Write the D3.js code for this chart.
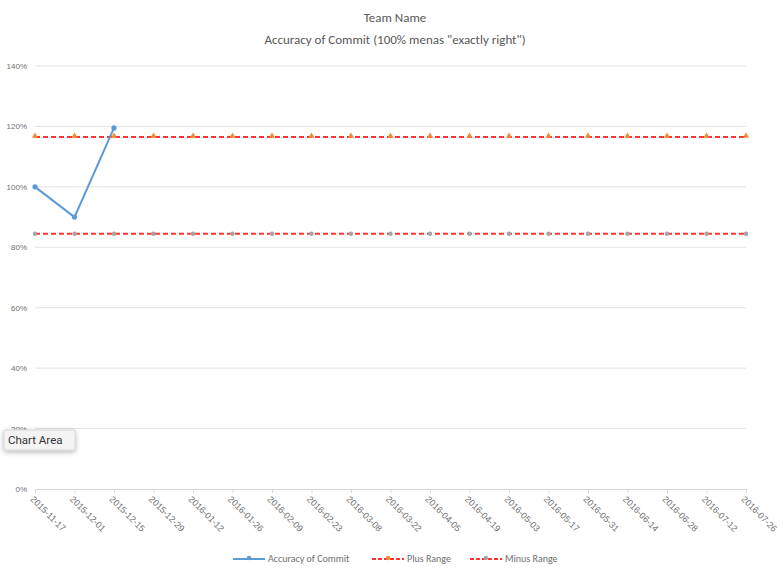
<!DOCTYPE html>
<html>
<head>
<meta charset="utf-8">
<script src="https://cdn.jsdelivr.net/npm/d3@7"></script>
<style>
  body { margin: 0; background: #fff; }
  svg { font-family: Calibri, "Open Sans", "Liberation Sans", sans-serif; }
</style>
</head>
<body>
<svg id="chart" width="783" height="568"></svg>
<script>
// sprint dates (category axis)
var dates = ["2015-11-17","2015-12-01","2015-12-15","2015-12-29","2016-01-12","2016-01-26",
  "2016-02-09","2016-02-23","2016-03-08","2016-03-22","2016-04-05","2016-04-19","2016-05-03",
  "2016-05-17","2016-05-31","2016-06-14","2016-06-28","2016-07-12","2016-07-26"];

// accuracy of commit, only three sprints filled in
var accuracy = [1.00, 0.90, 1.195];
var plusRange = [1.165,1.165,1.165,1.165,1.165,1.165,1.165,1.165,1.165,1.165,1.165,1.165,1.165,1.165,1.165,1.165,1.165,1.165,1.165];
var minusRange = [0.845,0.845,0.845,0.845,0.845,0.845,0.845,0.845,0.845,0.845,0.845,0.845,0.845,0.845,0.845,0.845,0.845,0.845,0.845];

var yTicks = [0, 0.2, 0.4, 0.6, 0.8, 1.0, 1.2, 1.4];

var svg = d3.select("#chart");
var pLeft = 35, pRight = 746, pTop = 66, pBottom = 489;

var x = d3.scalePoint().domain(dates).range([pLeft, pRight]);
var y = d3.scaleLinear().domain([0, 1.4]).range([pBottom, pTop]);

// titles
svg.append("text").attr("x", 395).attr("y", 22).attr("text-anchor", "middle")
  .attr("font-size", 13).attr("fill", "#595959").text("Team Name");
svg.append("text").attr("x", 395).attr("y", 44).attr("text-anchor", "middle")
  .attr("font-size", 13).attr("fill", "#595959").text("Accuracy of Commit (100% menas \"exactly right\")");

// gridlines
svg.append("g").selectAll("line").data(yTicks.slice(1)).enter().append("line")
  .attr("x1", pLeft).attr("x2", pRight)
  .attr("y1", function(d){ return y(d); }).attr("y2", function(d){ return y(d); })
  .attr("stroke", "#e3e3e3").attr("stroke-width", 1);

// y axis labels
var yAxis = d3.axisLeft(y).tickValues(yTicks).tickSize(0).tickPadding(8)
  .tickFormat(function(d){ return Math.round(d * 100) + "%"; });
var gy = svg.append("g").attr("transform", "translate(" + pLeft + ",0)").call(yAxis);
gy.select(".domain").remove();
gy.selectAll("text").attr("font-size", 8).attr("fill", "#6f6f6f");

// x axis
var xAxis = d3.axisBottom(x).tickSizeOuter(0).tickSizeInner(4).tickPadding(4);
var gx = svg.append("g").attr("transform", "translate(0," + pBottom + ")").call(xAxis);
gx.select(".domain").attr("stroke", "#d9d9d9");
gx.selectAll(".tick line").attr("stroke", "#d9d9d9");
gx.selectAll("text").attr("font-size", 9).attr("fill", "#6f6f6f")
  .attr("text-anchor", "start").attr("dy", 0)
  .attr("transform", "translate(0,5) rotate(45)");

// series
var line = d3.line().x(function(d, i){ return x(dates[i]); }).y(function(d){ return y(d); });

svg.append("path").datum(plusRange).attr("d", line).attr("fill", "none")
  .attr("stroke", "#ff3333").attr("stroke-width", 2).attr("stroke-dasharray", "5,3");
svg.append("g").selectAll("path").data(plusRange).enter().append("path")
  .attr("d", d3.symbol().type(d3.symbolTriangle).size(16))
  .attr("transform", function(d, i){ return "translate(" + x(dates[i]) + "," + (y(d) - 1) + ")"; })
  .attr("fill", "#f28a2e");

svg.append("path").datum(minusRange).attr("d", line).attr("fill", "none")
  .attr("stroke", "#ff3333").attr("stroke-width", 2).attr("stroke-dasharray", "5,3");
svg.append("g").selectAll("circle").data(minusRange).enter().append("circle")
  .attr("cx", function(d, i){ return x(dates[i]); }).attr("cy", function(d){ return y(d); })
  .attr("r", 2.2).attr("fill", "#a5a5a5");

svg.append("path").datum(accuracy).attr("d", line).attr("fill", "none")
  .attr("stroke", "#5b9bd5").attr("stroke-width", 2);
svg.append("g").selectAll("circle").data(accuracy).enter().append("circle")
  .attr("cx", function(d, i){ return x(dates[i]); }).attr("cy", function(d){ return y(d); })
  .attr("r", 2.6).attr("fill", "#5b9bd5");

// legend
var legend = [
  {name: "Accuracy of Commit", x: 233, color: "#5b9bd5", dash: null, marker: "#5b9bd5"},
  {name: "Plus Range", x: 372, color: "#ff3333", dash: "4,2", marker: "#f28a2e"},
  {name: "Minus Range", x: 470, color: "#ff3333", dash: "4,2", marker: "#a5a5a5"}
];
var lg = svg.append("g").selectAll("g").data(legend).enter().append("g")
  .attr("transform", function(d){ return "translate(" + d.x + ",559)"; });
lg.append("line").attr("x1", 0).attr("x2", 32).attr("y1", 0).attr("y2", 0)
  .attr("stroke", function(d){ return d.color; }).attr("stroke-width", 2)
  .attr("stroke-dasharray", function(d){ return d.dash; });
lg.append("circle").attr("cx", 16).attr("cy", -1).attr("r", 2.2)
  .attr("fill", function(d){ return d.marker; });
lg.append("text").attr("x", 35).attr("y", 3).attr("font-size", 10).attr("fill", "#6f6f6f")
  .text(function(d){ return d.name; });

// "Chart Area" hover tooltip
var defs = svg.append("defs");
var f = defs.append("filter").attr("id", "sh").attr("x", "-30%").attr("y", "-50%")
  .attr("width", "160%").attr("height", "220%");
f.append("feDropShadow").attr("dx", 0).attr("dy", 1.5).attr("stdDeviation", 2.5)
  .attr("flood-color", "#000").attr("flood-opacity", 0.3);
svg.append("rect").attr("x", 4).attr("y", 430).attr("width", 71).attr("height", 20).attr("rx", 2)
  .attr("fill", "#f4f4f4").attr("stroke", "#d6d6d6").attr("filter", "url(#sh)");
svg.append("text").attr("x", 8).attr("y", 444).attr("font-size", 11.5).attr("fill", "#333")
  .attr("font-family", "Roboto, 'Liberation Sans', sans-serif").text("Chart Area");
</script>
</body>
</html>
